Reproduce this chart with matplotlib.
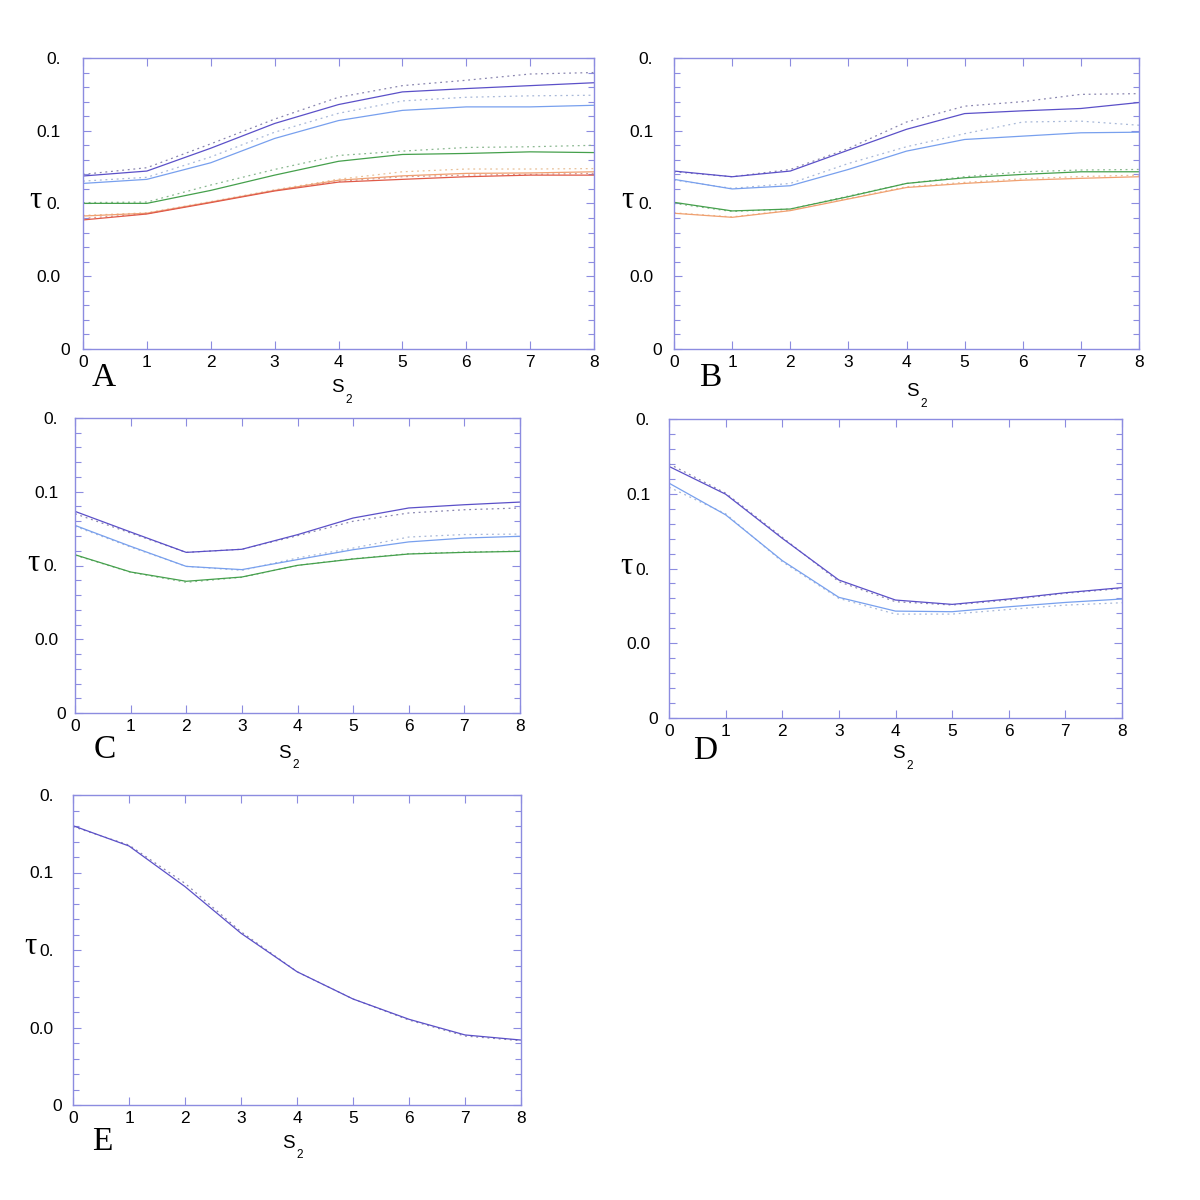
import matplotlib
matplotlib.use('Agg')
import matplotlib.pyplot as plt

# x values (s2) shared by every panel
s2 = [0, 1, 2, 3, 4, 5, 6, 7, 8]

# panel A
a_purple = [0.1189, 0.1223, 0.1380, 0.1550, 0.1680, 0.1767, 0.1790, 0.1810, 0.1830]
a_purple_dot = [0.1200, 0.1246, 0.1410, 0.1580, 0.1730, 0.1810, 0.1847, 0.1890, 0.1900]
a_blue = [0.1138, 0.1166, 0.1280, 0.1447, 0.1570, 0.1640, 0.1664, 0.1664, 0.1675]
a_blue_dot = [0.1154, 0.1180, 0.1320, 0.1490, 0.1620, 0.1705, 0.1730, 0.1740, 0.1744]
a_green = [0.1001, 0.1001, 0.1090, 0.1195, 0.1290, 0.1337, 0.1344, 0.1355, 0.1350]
a_green_dot = [0.1006, 0.1010, 0.1127, 0.1234, 0.1330, 0.1360, 0.1385, 0.1390, 0.1400]
a_orange = [0.0914, 0.0933, 0.1010, 0.1090, 0.1160, 0.1190, 0.1207, 0.1210, 0.1218]
a_orange_dot = [0.0918, 0.0936, 0.1013, 0.1094, 0.1167, 0.1218, 0.1237, 0.1237, 0.1240]
a_red = [0.0887, 0.0928, 0.1006, 0.1086, 0.1147, 0.1166, 0.1184, 0.1195, 0.1195]
a_red_dot = [0.0898, 0.0930, 0.1008, 0.1090, 0.1152, 0.1184, 0.1195, 0.1200, 0.1207]

# panel B
b_purple = [0.1223, 0.1184, 0.1223, 0.1367, 0.1510, 0.1618, 0.1637, 0.1653, 0.1694]
b_purple_dot = [0.1218, 0.1184, 0.1234, 0.1378, 0.1560, 0.1669, 0.1700, 0.1750, 0.1755]
b_blue = [0.1166, 0.1100, 0.1122, 0.1234, 0.1360, 0.1440, 0.1463, 0.1486, 0.1490]
b_blue_dot = [0.1161, 0.1104, 0.1138, 0.1275, 0.1390, 0.1480, 0.1560, 0.1566, 0.1538]
b_green = [0.1008, 0.0949, 0.0962, 0.1047, 0.1138, 0.1177, 0.1200, 0.1218, 0.1218]
b_green_dot = [0.1001, 0.0945, 0.0962, 0.1051, 0.1138, 0.1184, 0.1218, 0.1230, 0.1234]
b_orange = [0.0933, 0.0905, 0.0951, 0.1031, 0.1110, 0.1138, 0.1160, 0.1173, 0.1184]
b_orange_dot = [0.0936, 0.0908, 0.0955, 0.1035, 0.1115, 0.1145, 0.1170, 0.1185, 0.1195]

# panel C
c_purple = [0.1367, 0.1227, 0.1089, 0.1110, 0.1209, 0.1322, 0.1390, 0.1412, 0.1430]
c_purple_dot = [0.1351, 0.1220, 0.1089, 0.1110, 0.1202, 0.1300, 0.1356, 0.1378, 0.1390]
c_blue = [0.1272, 0.1130, 0.0994, 0.0972, 0.1040, 0.1107, 0.1160, 0.1186, 0.1198]
c_blue_dot = [0.1266, 0.1125, 0.0994, 0.0967, 0.1051, 0.1118, 0.1193, 0.1210, 0.1213]
c_green = [0.1073, 0.0956, 0.0893, 0.0922, 0.1001, 0.1044, 0.1078, 0.1089, 0.1096]
c_green_dot = [0.1070, 0.0954, 0.0886, 0.0920, 0.1001, 0.1046, 0.1080, 0.1091, 0.1098]

# panel D
d_purple = [0.1683, 0.1497, 0.1202, 0.0923, 0.0789, 0.0760, 0.0796, 0.0838, 0.0872]
d_purple_dot = [0.1700, 0.1504, 0.1209, 0.0912, 0.0778, 0.0756, 0.0789, 0.0834, 0.0867]
d_blue = [0.1571, 0.1359, 0.1053, 0.0807, 0.0715, 0.0711, 0.0744, 0.0773, 0.0796]
d_blue_dot = [0.1544, 0.1366, 0.1046, 0.0800, 0.0695, 0.0695, 0.0726, 0.0755, 0.0771]

# panel E
e_purple = [0.1802, 0.1671, 0.1409, 0.1108, 0.0860, 0.0684, 0.0553, 0.0452, 0.0419]
e_purple_dot = [0.1796, 0.1677, 0.1430, 0.1118, 0.0860, 0.0684, 0.0548, 0.0445, 0.0415]

yticks = [0, 0.05, 0.1, 0.15, 0.2]
ytick_labels = ['0', '0.0', '0.', '0.1', '0.']
xticks = [0, 1, 2, 3, 4, 5, 6, 7, 8]

PURPLE, PURPLE_D = '#5b50c8', '#8a86b0'
BLUE, BLUE_D = '#78a0ee', '#a8b8d8'
GREEN, GREEN_D = '#45a04c', '#8ab890'
ORANGE, ORANGE_D = '#f0a070', '#e8c098'
RED, RED_D = '#e05a48', '#d89a90'
FRAME = '#8c8ce0'

fig = plt.figure(figsize=(12, 12), dpi=100)


def px_axes(left, right, top, bottom):
    return fig.add_axes([left / 1200, 1 - bottom / 1200,
                         (right - left) / 1200, (bottom - top) / 1200])


def style(ax, ypad):
    ax.set_xlim(0, 8)
    ax.set_ylim(0, 0.2)
    ax.set_xticks(xticks)
    ax.set_xticklabels([str(v) for v in xticks], fontsize=12.5,
                       family='Liberation Sans')
    ax.set_yticks(yticks)
    ax.set_yticklabels(ytick_labels, fontsize=12.5, family='Liberation Sans')
    ax.set_yticks([v / 100 for v in range(21)], minor=True)
    ax.tick_params(axis='both', which='both', direction='in', color=FRAME,
                   top=True, right=True, width=0.8)
    ax.tick_params(axis='x', which='major', length=6, pad=4)
    ax.tick_params(axis='y', which='major', length=6, pad=ypad)
    ax.tick_params(axis='y', which='minor', length=4)
    for sp in ax.spines.values():
        sp.set_color(FRAME)
        sp.set_linewidth(1.0)
    # bottom "0" sits closer to the frame than the other labels
    ax.get_yticklabels()[0].set_x(0.018)


def draw(ax, pairs):
    for solid, dotted, c, cd in pairs:
        ax.plot(s2, dotted, color=cd, lw=0.9, ls=(0, (1.5, 3)))
        ax.plot(s2, solid, color=c, lw=0.9)


def labels(letter, lx, ly, sx, sy, tx, ty):
    fig.text(lx / 1200, 1 - ly / 1200, letter, fontsize=24,
             family='Liberation Serif', ha='center', va='center')
    fig.text(sx / 1200, 1 - sy / 1200, 'S', fontsize=13.5,
             family='Liberation Sans', ha='center', va='center')
    fig.text((sx + 12) / 1200, 1 - (sy + 12) / 1200, '2', fontsize=8.5,
             family='Liberation Sans', ha='center', va='center')
    fig.text(tx / 1200, 1 - ty / 1200, 'τ', fontsize=22,
             family='Liberation Serif', ha='center', va='center')


axA = px_axes(83, 594, 58, 349)
style(axA, 16)
draw(axA, [(a_purple, a_purple_dot, PURPLE, PURPLE_D),
           (a_blue, a_blue_dot, BLUE, BLUE_D),
           (a_green, a_green_dot, GREEN, GREEN_D),
           (a_orange, a_orange_dot, ORANGE, ORANGE_D),
           (a_red, a_red_dot, RED, RED_D)])
labels('A', 104, 378, 337, 388, 35, 201)

axB = px_axes(674, 1139, 58, 349)
style(axB, 15)
draw(axB, [(b_purple, b_purple_dot, PURPLE, PURPLE_D),
           (b_blue, b_blue_dot, BLUE, BLUE_D),
           (b_green, b_green_dot, GREEN, GREEN_D),
           (b_orange, b_orange_dot, ORANGE, ORANGE_D)])
labels('B', 710, 378, 912, 392, 627, 201)

axC = px_axes(75, 520, 418, 713)
style(axC, 12)
draw(axC, [(c_purple, c_purple_dot, PURPLE, PURPLE_D),
           (c_blue, c_blue_dot, BLUE, BLUE_D),
           (c_green, c_green_dot, GREEN, GREEN_D)])
labels('C', 105, 750, 284, 753, 33, 563)

axD = px_axes(669, 1122, 419, 718)
style(axD, 13.5)
draw(axD, [(d_purple, d_purple_dot, PURPLE, PURPLE_D),
           (d_blue, d_blue_dot, BLUE, BLUE_D)])
labels('D', 705, 751, 898, 754, 626, 566)

axE = px_axes(73, 521, 795, 1105)
style(axE, 14)
draw(axE, [(e_purple, e_purple_dot, PURPLE, PURPLE_D)])
labels('E', 102, 1142, 288, 1143, 30, 946)

fig.savefig('out.png', dpi=100, facecolor='white')
